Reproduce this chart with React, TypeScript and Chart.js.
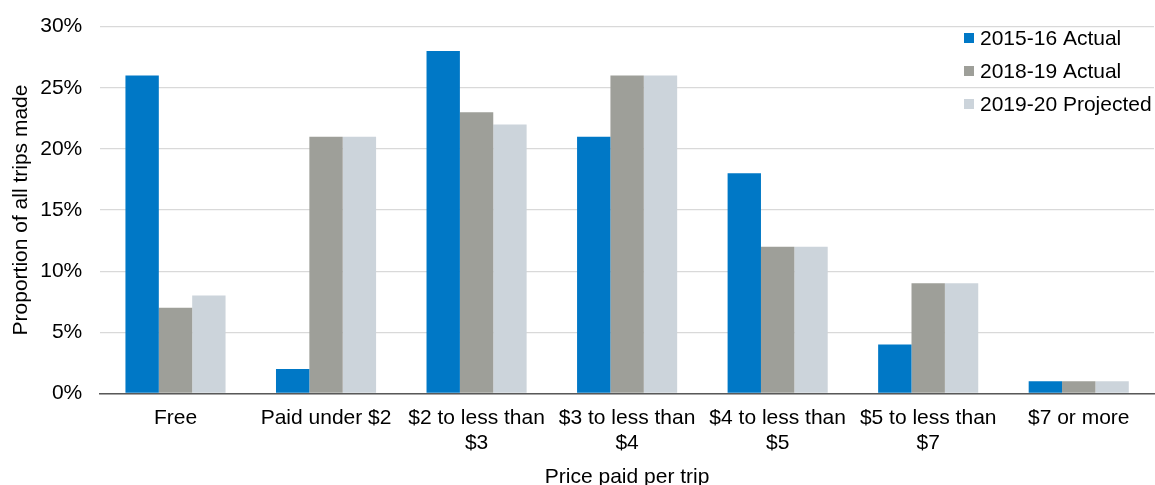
import React, { useEffect, useRef } from "react";
import { Chart, registerables } from "chart.js";

Chart.register(...registerables);

const categories: (string | string[])[] = [
  "Free",
  "Paid under $2",
  ["$2 to less than", "$3"],
  ["$3 to less than", "$4"],
  ["$4 to less than", "$5"],
  ["$5 to less than", "$7"],
  "$7 or more",
];
const seriesNames = ["2015-16 Actual", "2018-19 Actual", "2019-20 Projected"];
const actual1516 = [26, 2, 28, 21, 18, 4, 1];
const actual1819 = [7, 21, 23, 26, 12, 9, 1];
const projected1920 = [8, 21, 22, 26, 12, 9, 1];
const colors = ["#0078C6", "#9E9F99", "#CCD4DB"];
const yTicks = [0, 5, 10, 15, 20, 25, 30];

const FONT = "'Liberation Sans', Arial, sans-serif";

const legendPlugin = {
  id: "insideLegend",
  afterDraw(chart: any) {
    const ctx = chart.ctx;
    ctx.save();
    ctx.font = `21px ${FONT}`;
    ctx.textBaseline = "middle";
    ctx.textAlign = "left";
    const x0 = 964;
    const rows = [38, 71, 104];
    chart.data.datasets.forEach((ds: any, i: number) => {
      const y = rows[i];
      ctx.fillStyle = ds.backgroundColor;
      ctx.fillRect(x0, y - 5, 10, 10);
      ctx.fillStyle = "#000";
      ctx.fillText(ds.label, x0 + 16, y + 1);
    });
    ctx.restore();
  },
};

export default function App() {
  const ref = useRef<HTMLCanvasElement>(null);
  useEffect(() => {
    document.body.style.margin = "0";
    const data = [actual1516, actual1819, projected1920];
    const chart = new Chart(ref.current!, {
      type: "bar",
      data: {
        labels: categories,
        datasets: data.map((d, i) => ({
          label: seriesNames[i],
          data: d,
          backgroundColor: colors[i],
          borderWidth: 0,
          categoryPercentage: 0.665,
          barPercentage: 1,
        })),
      },
      options: {
        animation: false,
        responsive: false,
        maintainAspectRatio: false,
        layout: { padding: { top: 0, left: 9, right: 1, bottom: 0 } },
        plugins: {
          legend: { display: false },
          tooltip: { enabled: false },
        },
        scales: {
          x: {
            grid: { display: false, drawTicks: false },
            border: { display: true, color: "#595959", width: 1.5 },
            ticks: {
              color: "#000",
              font: { family: FONT, size: 21 },
              maxRotation: 0,
              autoSkip: false,
              padding: 12,
            },
            title: {
              display: true,
              text: "Price paid per trip",
              color: "#000",
              font: { family: FONT, size: 21 },
              padding: { top: -3, bottom: -5 },
            },
          },
          y: {
            min: 0,
            max: 30,
            afterBuildTicks: (axis: any) => {
              axis.ticks = yTicks.map((v) => ({ value: v }));
            },
            grid: { color: "#D9D9D9", lineWidth: 1.2, drawTicks: false },
            border: { display: false },
            ticks: {
              color: "#000",
              font: { family: FONT, size: 21, lineHeight: 0.82 },
              padding: 18,
              callback: (v: any) => `${v}%`,
            },
            title: {
              display: true,
              text: "Proportion of all trips made",
              color: "#000",
              font: { family: FONT, size: 21 },
              padding: { top: 0, bottom: -12 },
            },
          },
        },
      },
      plugins: [legendPlugin],
    });
    return () => chart.destroy();
  }, []);
  return (
    <div style={{ width: 1155, height: 485 }}>
      <canvas ref={ref} width={1155} height={485} style={{ display: "block" }} />
    </div>
  );
}
